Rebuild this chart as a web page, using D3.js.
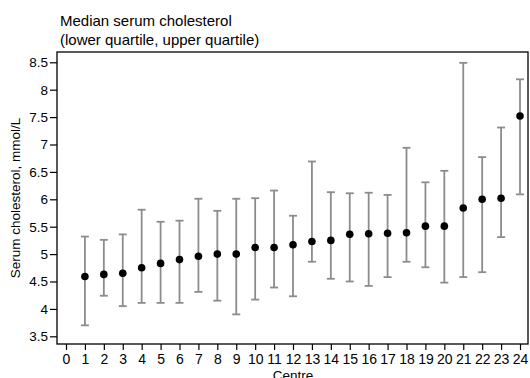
<!DOCTYPE html>
<html>
<head>
<meta charset="utf-8">
<script src="https://cdn.jsdelivr.net/npm/d3@7"></script>
<style>
  body { margin: 0; background: #fff; }
  svg { display: block; font-family: "Liberation Sans", Arial, sans-serif; }
</style>
</head>
<body>
<svg id="chart"></svg>
<script>
// centre numbers, medians and quartiles (mmol/L)
const centres = [1, 2, 3, 4, 5, 6, 7, 8, 9, 10, 11, 12, 13, 14, 15, 16, 17, 18, 19, 20, 21, 22, 23, 24];
const medians = [4.59, 4.63, 4.65, 4.75, 4.83, 4.90, 4.96, 5.00, 5.00, 5.12, 5.12, 5.17, 5.23, 5.25, 5.36, 5.37, 5.38, 5.39, 5.51, 5.51, 5.84, 6.00, 6.02, 7.52];
const lowerQ  = [3.70, 4.24, 4.05, 4.11, 4.11, 4.11, 4.31, 4.15, 3.90, 4.17, 4.39, 4.23, 4.86, 4.55, 4.50, 4.42, 4.58, 4.86, 4.76, 4.48, 4.58, 4.67, 5.31, 6.09];
const upperQ  = [5.32, 5.26, 5.36, 5.81, 5.59, 5.61, 6.01, 5.79, 6.01, 6.02, 6.16, 5.70, 6.69, 6.13, 6.11, 6.12, 6.08, 6.94, 6.31, 6.52, 8.49, 6.77, 7.31, 8.19];
const xTicks = d3.range(0, 25);
const yTicks = [3.5, 4, 4.5, 5, 5.5, 6, 6.5, 7, 7.5, 8, 8.5];

const width = 530, height = 378;
const frame = { left: 57, right: 528, top: 52, bottom: 344 };

const svg = d3.select('#chart')
  .attr('width', width)
  .attr('height', height);

const x = d3.scaleLinear()
  .domain([0, 24])
  .range([66, 520]);

const y = d3.scaleLinear()
  .domain([3.5, 8.5])
  .range([336.3, 62.3]);

const data = centres.map((c, i) => ({ c: c, med: medians[i], lo: lowerQ[i], hi: upperQ[i] }));

// title
svg.append('text')
  .attr('x', 60).attr('y', 26)
  .attr('font-size', 15)
  .text('Median serum cholesterol');
svg.append('text')
  .attr('x', 60).attr('y', 45)
  .attr('font-size', 15)
  .text('(lower quartile, upper quartile)');

// frame
svg.append('rect')
  .attr('x', frame.left)
  .attr('y', frame.top)
  .attr('width', frame.right - frame.left)
  .attr('height', frame.bottom - frame.top)
  .attr('fill', 'none')
  .attr('stroke', '#000')
  .attr('stroke-width', 1.3);

// y axis
const yAxis = svg.append('g')
  .attr('transform', `translate(${frame.left},0)`)
  .call(d3.axisLeft(y).tickValues(yTicks).tickSize(7).tickPadding(2).tickFormat(d3.format('')));
yAxis.select('.domain').remove();
yAxis.selectAll('text').attr('font-size', 13.5).attr('font-family', null).attr('fill', '#000');
yAxis.selectAll('line').attr('stroke-width', 1.2);

// x axis
const xAxis = svg.append('g')
  .attr('transform', `translate(0,${frame.bottom})`)
  .call(d3.axisBottom(x).tickValues(xTicks).tickSize(6).tickPadding(4));
xAxis.select('.domain').remove();
xAxis.selectAll('text').attr('font-size', 14).attr('font-family', null).attr('fill', '#000');
xAxis.selectAll('line').attr('stroke-width', 1.2);

// axis titles
svg.append('text')
  .attr('transform', `translate(20,${(frame.top + frame.bottom) / 2}) rotate(-90)`)
  .attr('text-anchor', 'middle')
  .attr('font-size', 13.5)
  .text('Serum cholesterol, mmol/L');

svg.append('text')
  .attr('x', (x(0) + x(24)) / 2)
  .attr('y', 380)
  .attr('text-anchor', 'middle')
  .attr('font-size', 13.5)
  .text('Centre');

// whiskers
const g = svg.append('g');
const capW = 4;
const whisk = g.selectAll('.whisker')
  .data(data)
  .enter()
  .append('g')
  .attr('stroke', '#8c8c8c')
  .attr('stroke-width', 1.8);
whisk.append('line')
  .attr('x1', d => x(d.c)).attr('x2', d => x(d.c))
  .attr('y1', d => y(d.lo)).attr('y2', d => y(d.hi));
whisk.append('line')
  .attr('x1', d => x(d.c) - capW).attr('x2', d => x(d.c) + capW)
  .attr('y1', d => y(d.hi)).attr('y2', d => y(d.hi));
whisk.append('line')
  .attr('x1', d => x(d.c) - capW).attr('x2', d => x(d.c) + capW)
  .attr('y1', d => y(d.lo)).attr('y2', d => y(d.lo));

// medians
g.selectAll('circle')
  .data(data)
  .enter()
  .append('circle')
  .attr('cx', d => x(d.c))
  .attr('cy', d => y(d.med))
  .attr('r', 3.8)
  .attr('fill', '#000');
</script>
</body>
</html>
